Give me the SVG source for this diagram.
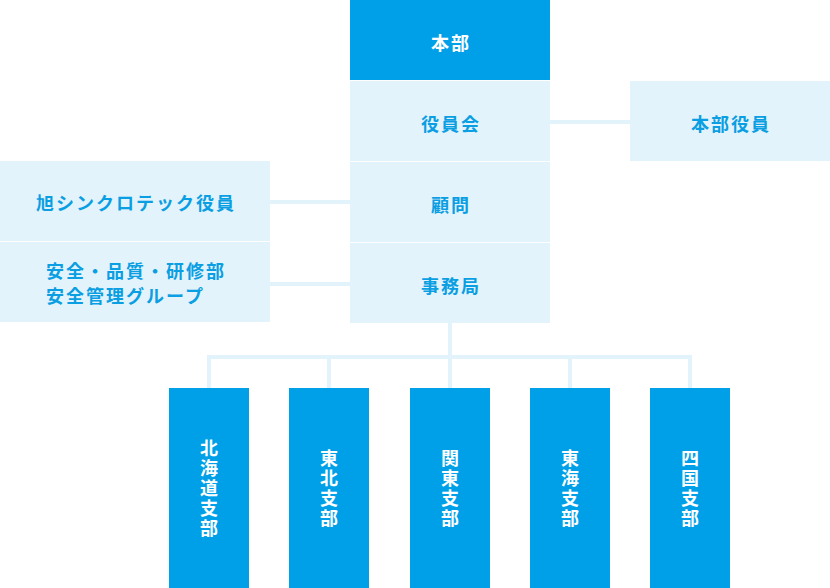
<svg xmlns="http://www.w3.org/2000/svg" width="830" height="588" viewBox="0 0 830 588">
<style>
.dark{fill:#00a0e9}
.light{fill:#e3f3fb}
text{font-family:"Noto Sans CJK JP","Noto Sans CJK SC",sans-serif;font-weight:700;font-size:18px;letter-spacing:2px;dominant-baseline:central}
.tw{fill:#ffffff}
.tb{fill:#0a9ee2}
.c{text-anchor:middle}
.v{writing-mode:vertical-rl;text-anchor:middle;letter-spacing:2px}
.conn{fill:none;stroke:#e3f3fb;stroke-width:4}
</style>
<rect width="830" height="588" fill="#ffffff"/>
<g id="connectors">
<line class="conn" x1="550" y1="122" x2="630" y2="122"/>
<line class="conn" x1="270" y1="202" x2="350" y2="202"/>
<line class="conn" x1="270" y1="284" x2="350" y2="284"/>
<line class="conn" x1="450" y1="323" x2="450" y2="388"/>
<polyline class="conn" points="209,388 209,357 690,357 690,388"/>
<line class="conn" x1="329" y1="357" x2="329" y2="388"/>
<line class="conn" x1="570" y1="357" x2="570" y2="388"/>
</g>
<g id="honbu">
<rect class="dark" x="350" y="0" width="200" height="80"/>
<text class="tw c" x="451" y="42">本部</text>
</g>
<g id="yakuinkai">
<rect class="light" x="350" y="81" width="200" height="80"/>
<text class="tb c" x="451" y="123">役員会</text>
</g>
<g id="komon">
<rect class="light" x="350" y="162" width="200" height="80"/>
<text class="tb c" x="451" y="204">顧問</text>
</g>
<g id="jimukyoku">
<rect class="light" x="350" y="243" width="200" height="80"/>
<text class="tb c" x="451" y="285">事務局</text>
</g>
<g id="honbu-yakuin">
<rect class="light" x="630" y="81" width="200" height="80"/>
<text class="tb c" x="731" y="123">本部役員</text>
</g>
<g id="asahi-yakuin">
<rect class="light" x="0" y="161" width="270" height="80"/>
<text class="tb c" x="136" y="202">旭シンクロテック役員</text>
</g>
<g id="anzen">
<rect class="light" x="0" y="242" width="270" height="80"/>
<text class="tb" x="46" y="270">安全・品質・研修部</text>
<text class="tb" x="46" y="295">安全管理グループ</text>
</g>
<g id="hokkaido">
<rect class="dark" x="169" y="388" width="80" height="200"/>
<text class="tw v" x="209" y="489">北海道支部</text>
</g>
<g id="tohoku">
<rect class="dark" x="289" y="388" width="80" height="200"/>
<text class="tw v" x="329" y="489">東北支部</text>
</g>
<g id="kanto">
<rect class="dark" x="410" y="388" width="80" height="200"/>
<text class="tw v" x="450" y="489">関東支部</text>
</g>
<g id="tokai">
<rect class="dark" x="530" y="388" width="80" height="200"/>
<text class="tw v" x="570" y="489">東海支部</text>
</g>
<g id="shikoku">
<rect class="dark" x="650" y="388" width="80" height="200"/>
<text class="tw v" x="690" y="489">四国支部</text>
</g>
</svg>
